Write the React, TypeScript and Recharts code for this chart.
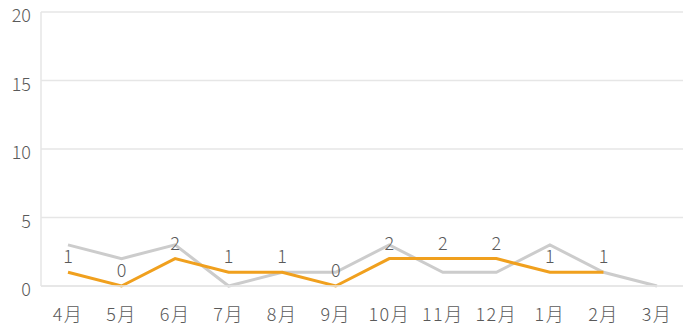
import { LineChart, Line, XAxis, YAxis, CartesianGrid, LabelList } from "recharts";

const months = ["4月", "5月", "6月", "7月", "8月", "9月", "10月", "11月", "12月", "1月", "2月", "3月"];
const current = [1, 0, 2, 1, 1, 0, 2, 2, 2, 1, 1, null];
const previous = [3, 2, 3, 0, 1, 1, 3, 1, 1, 3, 1, 0];
const yTicks = [0, 5, 10, 15, 20];

const data = months.map((month, i) => ({
  month,
  current: current[i],
  previous: previous[i],
}));

const font = '"Noto Sans CJK JP", "Noto Sans", sans-serif';
const textColor = "#5a5a5a";

export default function App() {
  return (
    <div style={{ position: "absolute", left: 0, top: 0 }}>
      <LineChart
        width={685}
        height={330}
        data={data}
        margin={{ top: 12, right: 2, left: 0, bottom: 14 }}
        style={{ fontFamily: font, fontWeight: 300 }}
      >
        <CartesianGrid vertical={false} stroke="#e6e6e6" strokeWidth={1.5} />
        <XAxis
          dataKey="month"
          padding={{ left: 27, right: 26 }}
          axisLine={{ stroke: "#e6e6e6", strokeWidth: 1.5 }}
          tickLine={false}
          tickMargin={10}
          interval={0}
          tick={{ fill: textColor, fontSize: 18, letterSpacing: 1.5, dy: 6 }}
        />
        <YAxis
          width={41}
          domain={[0, 20]}
          ticks={yTicks}
          axisLine={{ stroke: "#e6e6e6", strokeWidth: 1.5 }}
          tickLine={false}
          tickMargin={4}
          tick={{ fill: textColor, fontSize: 18, dy: 4 }}
        />
        <Line
          dataKey="previous"
          stroke="#cccccc"
          strokeWidth={3}
          dot={false}
          activeDot={false}
          isAnimationActive={false}
        />
        <Line
          dataKey="current"
          stroke="#f0a01e"
          strokeWidth={3}
          dot={false}
          activeDot={false}
          isAnimationActive={false}
        >
          <LabelList dataKey="current" position="top" offset={9} fill={textColor} fontSize={18} />
        </Line>
      </LineChart>
    </div>
  );
}
